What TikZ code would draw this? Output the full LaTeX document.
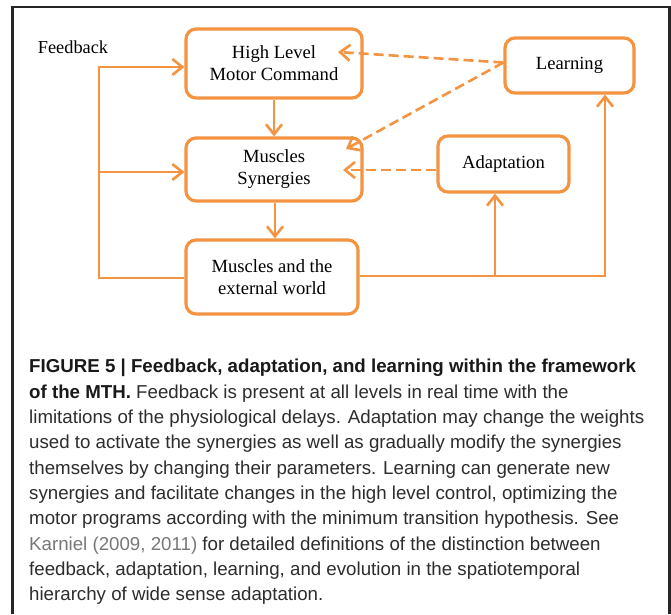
\documentclass[tikz,border=0pt]{standalone}
\usepackage{fontspec}
\setmainfont{Liberation Serif}
\newfontfamily\capfont{Liberation Sans}
\usetikzlibrary{arrows.meta}
\definecolor{org}{RGB}{244,148,66}
\definecolor{captxt}{RGB}{45,45,45}
\definecolor{linkgray}{RGB}{120,120,120}
\begin{document}
\begin{tikzpicture}[x=1pt,y=-1pt,
  box/.style={draw=org, line width=3.2pt, rounded corners=10pt, align=center,
    font=\fontsize{18.6}{22}\selectfont, inner sep=0pt},
  conn/.style={draw=org, line width=2.6pt, -{Straight Barb[length=10pt,width=16pt]}},
  dconn/.style={conn, dash pattern=on 10pt off 5pt},
  capline/.style={anchor=base west, inner sep=0pt, text=captxt,
    font=\capfont\fontsize{18.7}{22}\selectfont}]
\useasboundingbox (0,0) rectangle (671,614);
\fill[white] (0,0) rectangle (671,614);
% frame
\draw[line width=2.5pt, black!85] (12.5,614) -- (12.5,7) -- (669.5,7) -- (669.5,614);
% boxes
\node[box, minimum width=176pt, minimum height=69pt] (hlmc) at (274,63.5) {High Level\\Motor Command};
\node[box, minimum width=129pt, minimum height=55pt] (learn) at (569.5,65.5) {Learning};
\node[box, minimum width=176pt, minimum height=63pt] (ms) at (274,169.5) {Muscles\\Synergies};
\node[box, minimum width=131pt, minimum height=56pt] (adapt) at (503.5,164) {Adaptation};
\node[box, minimum width=172pt, minimum height=74pt] (mew) at (272,277) {Muscles and the\\external world};
\node[inner sep=0pt, font=\fontsize{18.3}{22}\selectfont] (fbl) at (73,47) {Feedback};
% feedback loop
\coordinate (fb) at (99,278);
\coordinate (fbm) at (99,172);
\draw[conn] (mew.west |- fb) -- (fb) |- ([yshift=-3.5pt]hlmc.west);
\draw[conn] (fbm) -- (ms.west |- fbm);
% vertical chain
\draw[conn] (hlmc.south) -- (ms.north);
\draw[conn] ([xshift=1pt]ms.south) -- ([xshift=1pt]ms.south |- mew.north);
% to adaptation / learning
\coordinate (r1) at (605,276);
\coordinate (r2) at (495,276);
\draw[conn] (mew.east |- r1) -- (r1) -- (r1 |- learn.south);
\draw[conn] (r2) -- (r2 |- adapt.south);
% dashed
\coordinate (t1) at (338,52);
\coordinate (t2) at (346,149);
\coordinate (t3) at (343,170);
\draw[dconn] ([yshift=3pt]learn.west) -- (t1);
\draw[dconn] ([yshift=3pt]learn.west) -- (t2);
\draw[dconn] (adapt.west |- t3) -- (t3);
% caption
\node[capline] (c1) at (29,372.7) {\textbf{\color{black!90}FIGURE 5 | Feedback, adaptation, and learning within the framework}};
\node[capline] (c2) at (29,398.0) {\textbf{\color{black!90}of the MTH.} Feedback is present at all levels in real time with the};
\node[capline] (c3) at (29,423.4) {limitations of the physiological delays. Adaptation may change the weights};
\node[capline] (c4) at (29,448.7) {used to activate the synergies as well as gradually modify the synergies};
\node[capline] (c5) at (29,474.0) {themselves by changing their parameters. Learning can generate new};
\node[capline] (c6) at (29,499.4) {synergies and facilitate changes in the high level control, optimizing the};
\node[capline] (c7) at (29,524.7) {motor programs according with the minimum transition hypothesis. See};
\node[capline] (c8) at (29,550.0) {{\color{linkgray}Karniel (2009, 2011)} for detailed definitions of the distinction between};
\node[capline] (c9) at (29,575.4) {feedback, adaptation, learning, and evolution in the spatiotemporal};
\node[capline] (c10) at (29,600.7) {hierarchy of wide sense adaptation.};
\end{tikzpicture}
\end{document}
